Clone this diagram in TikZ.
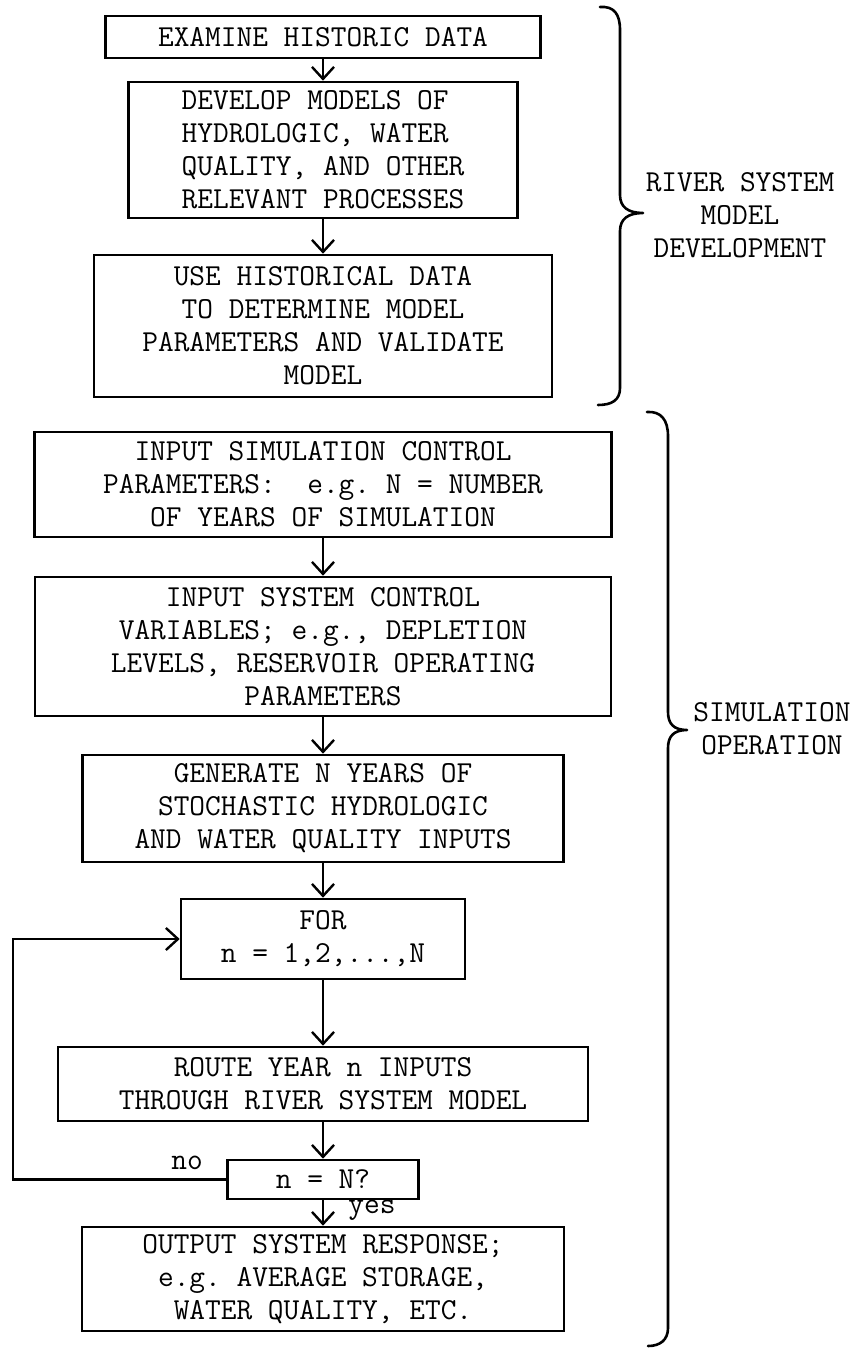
\documentclass[tikz,border=0pt]{standalone}
\usetikzlibrary{arrows.meta}
\begin{document}
\begin{tikzpicture}[x=1pt,y=-1pt,
  every node/.style={font=\ttfamily\fontsize{30.5}{33}\selectfont\frenchspacing},
  box/.style={draw, line width=2.6pt, inner sep=0pt, align=center},
  arr/.style={line width=2.4pt, -{Straight Barb[length=12pt,width=22pt,line width=2.4pt]}},
  brace/.style={line width=2.6pt, line cap=round, line join=round},
  lbl/.style={inner sep=0pt, align=center}]
\useasboundingbox (0,0) rectangle (856,1351);
% upper group
\node[box, minimum width=435pt, minimum height=42pt] (b1) at (323,37) {EXAMINE HISTORIC DATA};
\node[box, minimum width=389pt, minimum height=136pt, align=left] (b2) at (323,150) {DEVELOP MODELS OF\\HYDROLOGIC, WATER\\QUALITY, AND OTHER\\RELEVANT PROCESSES};
\node[box, minimum width=458pt, minimum height=142pt] (b3) at (323,326) {USE HISTORICAL DATA\\TO DETERMINE MODEL\\PARAMETERS AND VALIDATE\\MODEL};
% lower group
\node[box, minimum width=577pt, minimum height=105pt] (b4) at (323,484.5) {INPUT SIMULATION CONTROL\\PARAMETERS:\ \ e.g. N = NUMBER\\OF YEARS OF SIMULATION};
\node[box, minimum width=576pt, minimum height=139pt] (b5) at (323,646.5) {INPUT SYSTEM CONTROL\\VARIABLES; e.g., DEPLETION\\LEVELS, RESERVOIR OPERATING\\PARAMETERS};
\node[box, minimum width=481pt, minimum height=107pt] (b6) at (323,808.5) {GENERATE N YEARS OF\\STOCHASTIC HYDROLOGIC\\AND WATER QUALITY INPUTS};
\node[box, minimum width=284pt, minimum height=80pt] (b7) at (323,939) {FOR\\n = 1,2,...,N};
\node[box, minimum width=530pt, minimum height=74pt] (b8) at (323,1084) {ROUTE YEAR n INPUTS\\THROUGH RIVER SYSTEM MODEL};
\node[box, minimum width=191pt, minimum height=39pt] (b9) at (323,1179.5) {n = N?};
\node[box, minimum width=482pt, minimum height=104pt] (b10) at (323,1279) {OUTPUT SYSTEM RESPONSE;\\e.g. AVERAGE STORAGE,\\WATER QUALITY, ETC.};
% connectors
\draw[arr] (b1) -- (b2);
\draw[arr] (b2) -- (b3);
\draw[arr] (b4) -- (b5);
\draw[arr] (b5) -- (b6);
\draw[arr] (b6) -- (b7);
\draw[arr] (b7) -- (b8);
\draw[arr] (b8) -- (b9);
\draw[arr] (b9) -- (b10);
\coordinate (loopx) at (13,0);
\draw[arr] (b9.west) -- (b9.west -| loopx) |- (b7.west);
\node[lbl] (no) at (187,1163) {no};
\node[lbl] (yes) at (372,1210) {yes};
% braces
\draw[brace] (600,7) .. controls (614,6) and (620,14) .. (620,30) -- (620,195)
  .. controls (620,207) and (628,213) .. (643,213)
  .. controls (628,213) and (620,219) .. (620,231) -- (620,388)
  .. controls (620,400) and (612,405) .. (598,405);
\draw[brace] (647,412) .. controls (661,411) and (668,420) .. (668,436) -- (668,712)
  .. controls (668,724) and (674,730) .. (687,730)
  .. controls (674,730) and (668,736) .. (668,748) -- (668,1328)
  .. controls (668,1340) and (660,1346) .. (648,1346);
\node[lbl] (lab1) at (740,215) {RIVER SYSTEM\\MODEL\\DEVELOPMENT};
\node[lbl] (lab2) at (772,729) {SIMULATION\\OPERATION};
\end{tikzpicture}
\end{document}
